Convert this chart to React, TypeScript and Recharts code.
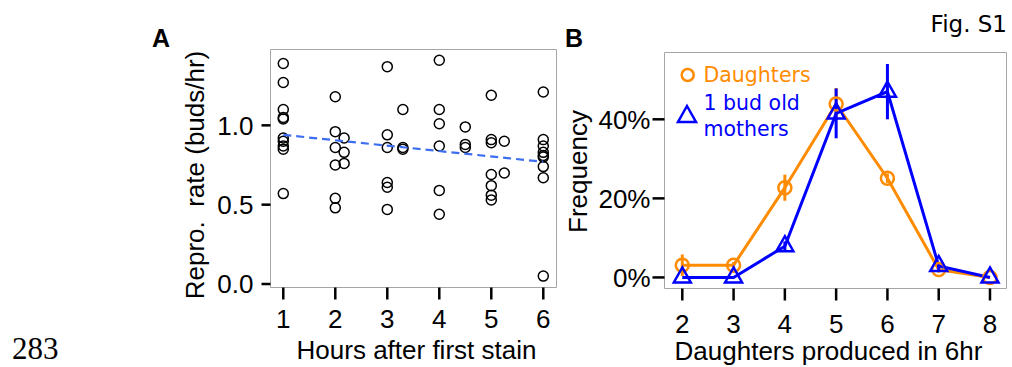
import React from 'react';
import {
  ScatterChart,
  Scatter,
  LineChart,
  Line,
  XAxis,
  YAxis,
  ReferenceArea,
  ErrorBar,
  Legend,
  Label,
} from 'recharts';

// Panel A: reproduction rate per cell, grouped by hours after first stain
const stainHours = [1, 2, 2.17, 3, 3.3, 4, 4.5, 5, 5.25, 6];
const reproRates = [
  [1.39, 1.27, 1.1, 1.05, 1.04, 0.92, 0.9, 0.87, 0.85, 0.57],
  [1.18, 0.96, 0.86, 0.75, 0.54, 0.48],
  [0.92, 0.83, 0.76],
  [1.37, 0.94, 0.86, 0.64, 0.61, 0.47],
  [1.1, 0.86, 0.85],
  [1.41, 1.1, 1.01, 0.87, 0.59, 0.44],
  [0.99, 0.88, 0.86],
  [1.19, 0.91, 0.89, 0.69, 0.62, 0.56, 0.53],
  [0.9, 0.7],
  [1.21, 0.91, 0.87, 0.83, 0.81, 0.8, 0.74, 0.67, 0.05],
];
const fitHours = [1, 6];
const fitRates = [0.94, 0.77];
const hourTicks = [1, 2, 3, 4, 5, 6];
const rateTicks = [0, 0.5, 1.0];

// Panel B: distribution of daughters produced in 6 hr (percent)
const daughterCounts = [2, 3, 4, 5, 6, 7, 8];
const daughtersFreq = [3.1, 3.1, 22.7, 43.9, 25.1, 2.0, 0];
const daughtersErr = [2.7, 0.8, 3.3, 4.0, 1.2, 0.8, 0];
const mothersFreq = [0, 0, 7.9, 41.5, 47.0, 2.9, 0];
const mothersErr = [0, 0, 1.2, 6.3, 7.0, 1.0, 0];
const freqTicks = [0, 20, 40];

const ORANGE = '#ff8c00';
const BLUE = '#0000ff';
const BOX = '#a6a6a6';

const hourDomain: [number, number] = [0.754, 6.254];
const rateDomain: [number, number] = [-0.022, 1.478];
const countDomain: [number, number] = [1.653, 8.322];
const freqDomain: [number, number] = [-2.8, 56.9];

const tickFont = { fill: '#000', fontSize: 26, fontFamily: "'Liberation Sans', Arial, sans-serif" };
const tickStroke = { stroke: '#000', strokeWidth: 2.5 };
const titleStyle: React.CSSProperties = {
  fontSize: 26,
  fontFamily: "'Liberation Sans', Arial, sans-serif",
  fill: '#000',
  whiteSpace: 'pre',
};
const panelLetter: React.CSSProperties = {
  fontFamily: "'Liberation Sans', Arial, sans-serif",
  fontSize: 25,
  fontWeight: 700,
};

const points = stainHours.flatMap((h, i) => reproRates[i].map((r) => ({ x: h, y: r })));
const fit = fitHours.map((h, i) => ({ x: h, y: fitRates[i] }));
const freqRows = daughterCounts.map((n, i) => ({
  n,
  daughters: daughtersFreq[i],
  dErr: daughtersErr[i],
  mothers: mothersFreq[i],
  mErr: mothersErr[i],
}));

// axis titles drawn relative to the axis box recharts hands to <Label>
const xTitle = (text: string, dx: number) => (props: any) => {
  const { x, y, width } = props.viewBox;
  return (
    <text x={x + width / 2 + dx} y={y + 71.5} textAnchor="middle" style={titleStyle}>
      {text}
    </text>
  );
};

const yTitle = (text: string, dx: number, dy: number) => (props: any) => {
  const { x, y, height } = props.viewBox;
  const cx = x + dx;
  const cy = y + height / 2 + dy;
  return (
    <text
      x={cx}
      y={cy}
      textAnchor="middle"
      dominantBaseline="central"
      transform={`rotate(-90, ${cx}, ${cy})`}
      style={titleStyle}
    >
      {text}
    </text>
  );
};

const openCircle = (r: number, color: string, sw: number) => (props: any) => (
  <circle key={props.index} cx={props.cx} cy={props.cy} r={r} fill="none" stroke={color} strokeWidth={sw} />
);

const openTriangle = (props: any) => {
  const { cx, cy } = props;
  return (
    <path
      key={props.index}
      d={`M${cx},${cy - 10}L${cx + 8.5},${cy + 5}L${cx - 8.5},${cy + 5}Z`}
      fill="none"
      stroke={BLUE}
      strokeWidth={2.5}
    />
  );
};

function LegendBox() {
  const font = { fontFamily: "'DejaVu Sans', sans-serif", fontSize: 20.5 };
  return (
    <svg width={170} height={90}>
      <circle cx={22.7} cy={20} r={6} fill="none" stroke={ORANGE} strokeWidth={2.5} />
      <text x={38.5} y={27.3} fill={ORANGE} style={font}>Daughters</text>
      <path d="M22,51L31,67L13,67Z" fill="none" stroke={BLUE} strokeWidth={2.5} />
      <text x={38.5} y={55} fill={BLUE} style={font}>1 bud old</text>
      <text x={38.5} y={80.7} fill={BLUE} style={font}>mothers</text>
    </svg>
  );
}

function PanelA() {
  return (
    <ScatterChart width={570} height={367} margin={{ top: 49.5, right: 13.5, bottom: 3.5, left: 190.5 }}>
      <XAxis
        type="number"
        dataKey="x"
        domain={hourDomain}
        ticks={hourTicks}
        interval={0}
        allowDataOverflow
        axisLine={false}
        tickLine={tickStroke}
        tickSize={12}
        tickMargin={10.5}
        tick={tickFont}
        height={76}
      >
        <Label content={xTitle('Hours after first stain', 3)} />
      </XAxis>
      <YAxis
        type="number"
        dataKey="y"
        domain={rateDomain}
        ticks={rateTicks}
        interval={0}
        allowDataOverflow
        axisLine={false}
        tickLine={tickStroke}
        tickSize={9}
        tickMargin={8}
        tick={tickFont}
        tickFormatter={(v: number) => v.toFixed(1)}
        width={80}
      >
        <Label content={yTitle('Repro.  rate (buds/hr)', 4.5, 6.5)} />
      </YAxis>
      <ReferenceArea
        x1={hourDomain[0]}
        x2={hourDomain[1]}
        y1={rateDomain[0]}
        y2={rateDomain[1]}
        fill="none"
        stroke={BOX}
        strokeWidth={1}
      />
      <Scatter data={points} shape={openCircle(5, '#000', 1.5)} isAnimationActive={false} />
      <Scatter
        data={fit}
        shape={() => <g />}
        line={{ stroke: '#3d6ef2', strokeWidth: 2.2, strokeDasharray: '8 5' }}
        isAnimationActive={false}
      />
    </ScatterChart>
  );
}

function PanelB() {
  return (
    <LineChart width={452} height={367} data={freqRows} margin={{ top: 52.5, right: 5.5, bottom: 2.5, left: 14.5 }}>
      <XAxis
        type="number"
        dataKey="n"
        domain={countDomain}
        ticks={daughterCounts}
        interval={0}
        allowDataOverflow
        axisLine={false}
        tickLine={tickStroke}
        tickSize={12}
        tickMargin={14.5}
        tick={tickFont}
        height={76}
      >
        <Label content={xTitle('Daughters produced in 6hr', -7)} />
      </XAxis>
      <YAxis
        type="number"
        domain={freqDomain}
        ticks={freqTicks}
        interval={0}
        allowDataOverflow
        axisLine={false}
        tickLine={tickStroke}
        tickSize={12}
        tickMargin={2}
        tick={tickFont}
        tickFormatter={(v: number) => `${v}%`}
        width={90}
      >
        <Label content={yTitle('Frequency', 3.5, 1)} />
      </YAxis>
      <ReferenceArea
        x1={countDomain[0]}
        x2={countDomain[1]}
        y1={freqDomain[0]}
        y2={freqDomain[1]}
        fill="none"
        stroke={BOX}
        strokeWidth={1}
      />
      <Legend
        layout="vertical"
        align="center"
        verticalAlign="middle"
        wrapperStyle={{ left: 105, top: 55, width: 170, height: 90 }}
        content={() => <LegendBox />}
      />
      <Line
        dataKey="daughters"
        type="linear"
        stroke={ORANGE}
        strokeWidth={3}
        dot={openCircle(6.5, ORANGE, 2.5)}
        activeDot={false}
        isAnimationActive={false}
      >
        <ErrorBar dataKey="dErr" direction="y" width={0} stroke={ORANGE} strokeWidth={3} />
      </Line>
      <Line
        dataKey="mothers"
        type="linear"
        stroke={BLUE}
        strokeWidth={3}
        dot={openTriangle}
        activeDot={false}
        isAnimationActive={false}
      >
        <ErrorBar dataKey="mErr" direction="y" width={0} stroke={BLUE} strokeWidth={3} />
      </Line>
    </LineChart>
  );
}

export default function App() {
  return (
    <div style={{ position: 'absolute', left: 0, top: 0, width: 1012, height: 367, background: '#fff' }}>
      <div style={{ position: 'absolute', left: 0, top: 0 }}>
        <PanelA />
      </div>
      <div style={{ position: 'absolute', left: 560, top: 0 }}>
        <PanelB />
      </div>
      <svg
        width={1012}
        height={367}
        style={{ position: 'absolute', left: 0, top: 0, pointerEvents: 'none' }}
      >
        <text x={152} y={47} style={panelLetter}>
          A
        </text>
        <text x={565} y={47} style={panelLetter}>
          B
        </text>
        <text x={1007} y={31.7} textAnchor="end" style={{ fontFamily: "'DejaVu Sans', sans-serif", fontSize: 23 }}>
          Fig. S1
        </text>
        <text x={12} y={359} style={{ fontFamily: "'Liberation Serif', serif", fontSize: 31 }}>
          283
        </text>
      </svg>
    </div>
  );
}
